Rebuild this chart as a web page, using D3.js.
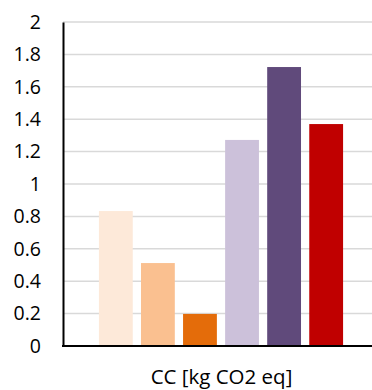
<!DOCTYPE html>
<html><head><meta charset="utf-8">
<script src="https://cdn.jsdelivr.net/npm/d3@7"></script>
<style>html,body{margin:0;padding:0;background:#fff;}svg{display:block;}</style>
</head><body>
<script>
const categories = ["S1","S2","S3","S4","S5","S6"];
const values = [0.833, 0.512, 0.198, 1.272, 1.722, 1.370];
const colors = ["#FDE9D9","#FAC090","#E46C0A","#CCC1DA","#604A7B","#C00000"];
const yTicks = [0,0.2,0.4,0.6,0.8,1,1.2,1.4,1.6,1.8,2];
const xLabel = "CC [kg CO2 eq]";

const W = 372, H = 390;
const svg = d3.select("body").append("svg").attr("width", W).attr("height", H);
const font = "'Open Sans', sans-serif";

const y = d3.scaleLinear().domain([0,2]).range([346,22]);
const x = d3.scaleBand().domain(categories).range([94.8,347.2]).paddingInner(0.196).paddingOuter(0.098);

// gridlines
svg.append("g").selectAll("line").data(yTicks.filter(d=>d>0)).join("line")
  .attr("x1",63).attr("x2",W).attr("y1",d=>y(d)).attr("y2",d=>y(d))
  .attr("stroke","#D9D9D9").attr("stroke-width",1.5);

// bars
svg.append("g").selectAll("rect").data(categories).join("rect")
  .attr("x",d=>x(d)).attr("width",x.bandwidth())
  .attr("y",(d,i)=>y(values[i])).attr("height",(d,i)=>y(0)-y(values[i]))
  .attr("fill",(d,i)=>colors[i]);

// y axis
const yAxis = d3.axisLeft(y).tickValues(yTicks).tickSize(0).tickPadding(22)
  .tickFormat(d=>d3.format("~g")(d));
const gy = svg.append("g").attr("transform","translate(63,0)").call(yAxis);
gy.select(".domain").attr("stroke","#000").attr("stroke-width",2);
gy.selectAll("text").attr("font-family",font).attr("font-size","19.5px").attr("fill","#000");

// baseline
svg.append("line").attr("x1",62).attr("x2",W).attr("y1",y(0)).attr("y2",y(0))
  .attr("stroke","#000").attr("stroke-width",1.8);

// x label
svg.append("text").attr("x",221.5).attr("y",384).attr("text-anchor","middle")
  .attr("font-family",font).attr("font-size","20.5px").attr("fill","#000").text(xLabel);
</script>
</body></html>
